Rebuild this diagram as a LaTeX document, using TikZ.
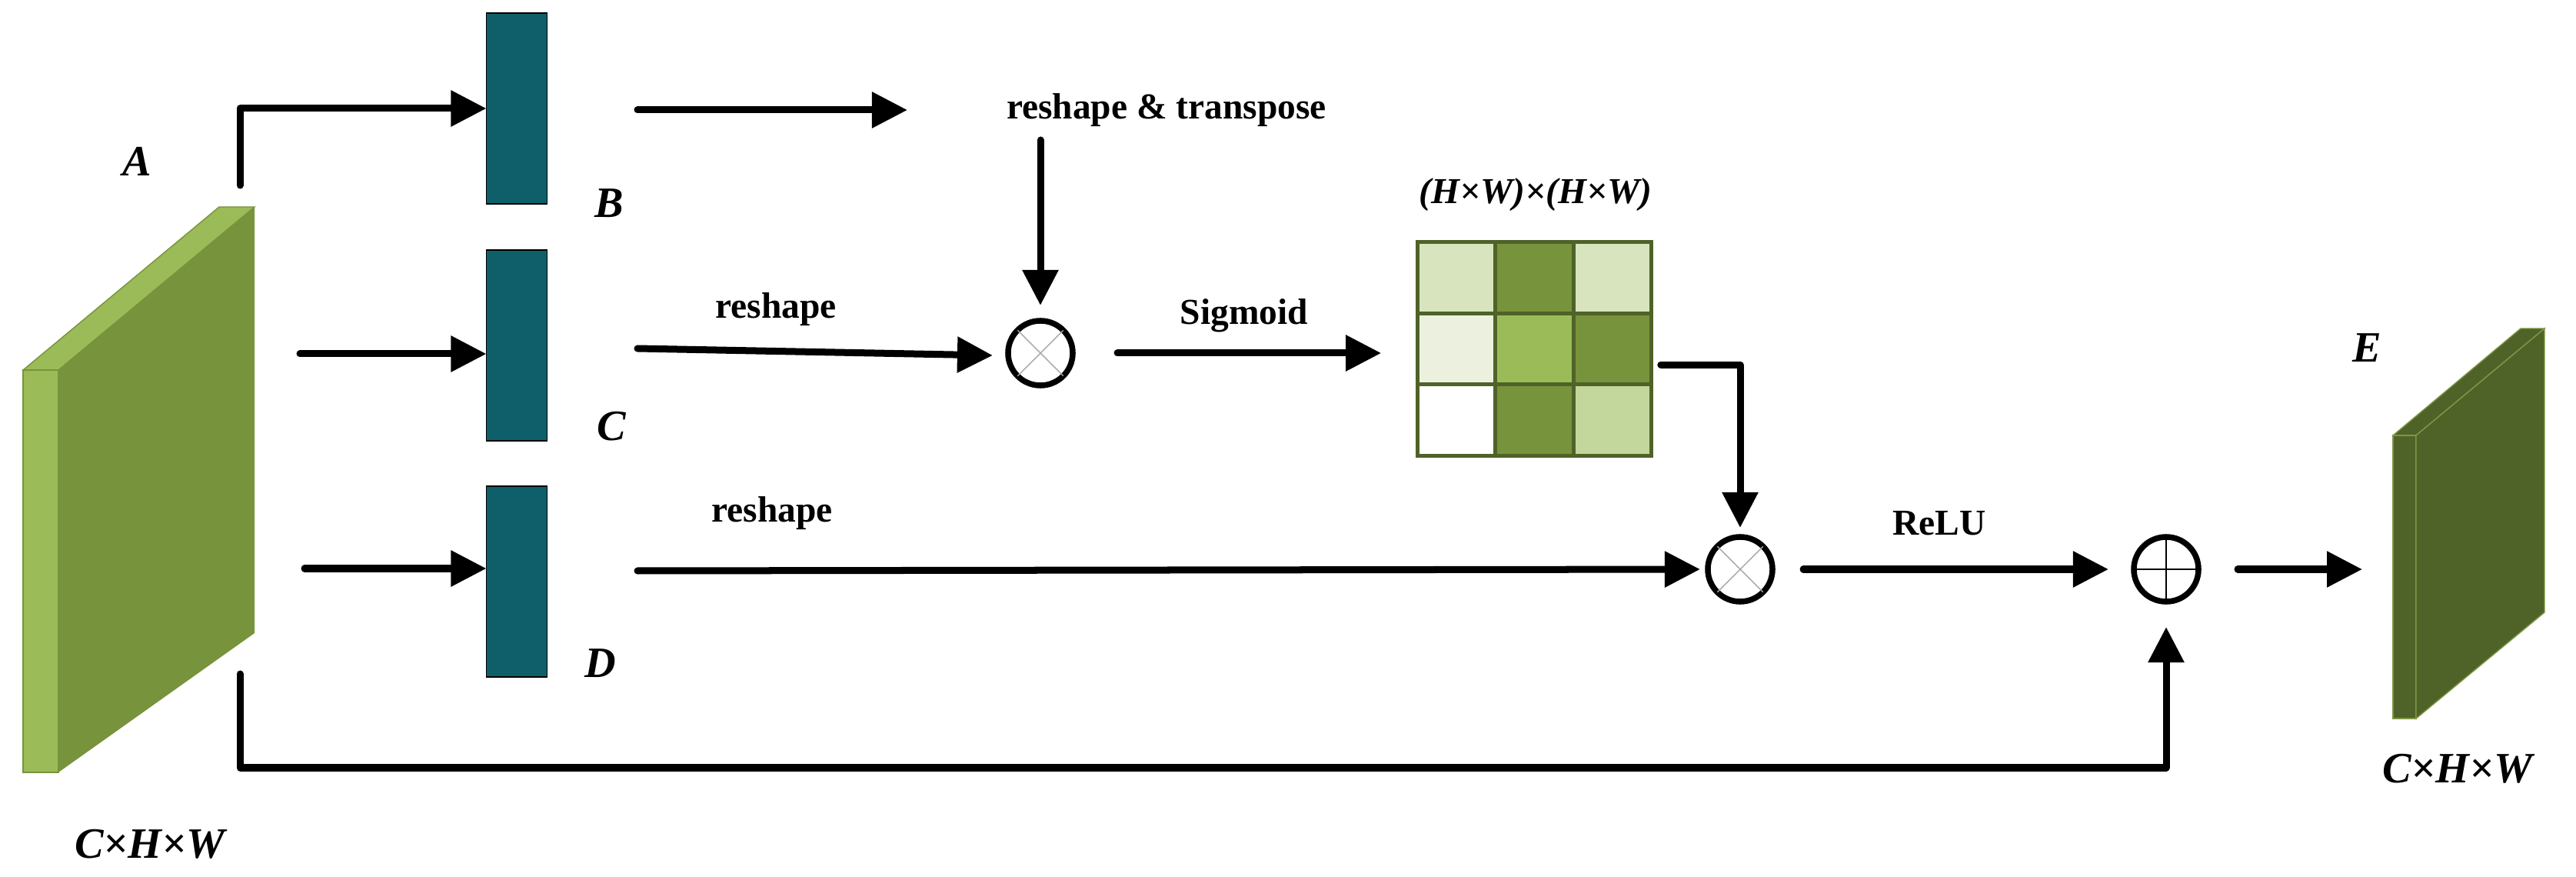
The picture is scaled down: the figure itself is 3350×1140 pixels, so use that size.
\documentclass[tikz,border=0pt]{standalone}
\usepackage{fontspec}
\setmainfont{Liberation Serif}
\usetikzlibrary{arrows.meta}
\definecolor{teal1}{HTML}{0F5F6A}
\definecolor{gA}{HTML}{9BBB59}
\definecolor{gB}{HTML}{77933C}
\definecolor{gD}{HTML}{4F6228}
\definecolor{gL1}{HTML}{D7E4BD}
\definecolor{gL2}{HTML}{EBF1DE}
\definecolor{gL3}{HTML}{C3D69B}
\begin{document}
\begin{tikzpicture}[x=0.01cm,y=-0.01cm,
  arr/.style={line width=0.09cm,line cap=round,line join=round,-{Triangle[length=0.46cm,width=0.45cm]}},
  bar/.style={draw=black,line width=0.4pt,fill=teal1,minimum width=0.79cm,minimum height=2.48cm,inner sep=0,outer sep=0},
  op/.style={circle,draw=black,line width=0.075cm,minimum size=0.84cm,inner sep=0,outer sep=0},
  lab/.style={font=\fontsize{16}{16}\selectfont\bfseries\itshape},
  txt/.style={font=\fontsize{13.5}{13.5}\selectfont\bfseries},
  cell/.style={draw=gD,line width=0.05cm}]
\useasboundingbox (0,0) rectangle (3350,1140);
% block A
\fill[gA,draw=gB,line width=0.4pt] (30,481)--(285,269)--(331,269)--(76,481)--cycle;
\fill[gA,draw=gB,line width=0.4pt] (30,481) rectangle (76,1004);
\fill[gB] (76,481)--(331,269)--(331,823)--(76,1004)--cycle;
\node[lab] (la) at (178,210) {A};
\node[lab] (lca) at (195,1097) {C×H×W};
% bars
\node[bar] (B) at (672,141) {};
\node[bar] (C) at (672,449) {};
\node[bar] (D) at (672,756) {};
\node[lab] (lb) at (792,264) {B};
\node[lab] (lc) at (795,554) {C};
\node[lab] (ld) at (781,862) {D};
% operators
\node[op] (m1) at (1353,459) {};
\draw[gray!70,line width=0.4pt] (m1.north west)--(m1.south east) (m1.north east)--(m1.south west);
\node[op] (m2) at (2263,740) {};
\draw[gray!70,line width=0.4pt] (m2.north west)--(m2.south east) (m2.north east)--(m2.south west);
\node[op] (p1) at (2817,740) {};
\draw[black,line width=0.4pt] (p1.north)--(p1.south) (p1.west)--(p1.east);
% grid
\fill[gL1] (1843,315) rectangle (1944,408);
\fill[gB] (1944,315) rectangle (2046,408);
\fill[gL1] (2046,315) rectangle (2147,408);
\fill[gL2] (1843,408) rectangle (1944,500);
\fill[gA] (1944,408) rectangle (2046,500);
\fill[gB] (2046,408) rectangle (2147,500);
\fill[white] (1843,500) rectangle (1944,593);
\fill[gB] (1944,500) rectangle (2046,593);
\fill[gL3] (2046,500) rectangle (2147,593);
\draw[cell] (1843,315) rectangle (2147,593);
\draw[cell] (1944,315)--(1944,593) (2046,315)--(2046,593) (1843,408)--(2147,408) (1843,500)--(2147,500);
\node[draw=none,minimum width=3.04cm,minimum height=2.78cm] (G) at (1995,454) {};
\node[txt,font=\fontsize{13.5}{13.5}\selectfont\bfseries\itshape] (lg) at (1997,253) {(H×W)×(H×W)};
% block E
\fill[gD,draw=gA!60!gD,line width=0.4pt] (3112,566)--(3278,427)--(3309,427)--(3142,566)--cycle;
\fill[gD,draw=gA!60!gD,line width=0.4pt] (3112,566) rectangle (3142,934);
\fill[gD,draw=gA!60!gD,line width=0.4pt] (3142,566)--(3309,427)--(3309,796)--(3142,934)--cycle;
\node[lab] (le) at (3078,452) {E};
\node[lab] (lce) at (3196,999) {C×H×W};
% texts
\node[txt] (t1) at (1517,143) {reshape \& transpose};
\node[txt] (t2) at (1009,402) {reshape};
\node[txt] (t3) at (1618,410) {Sigmoid};
\node[txt] (t4) at (1004,667) {reshape};
\node[txt] (t5) at (2522,680) {ReLU};
% coordinates
\coordinate (a1) at (312,241);
\coordinate (a2) at (390,460);
\coordinate (a3) at (396,739);
\coordinate (a4) at (312,876);
\coordinate (b1) at (829,143);
\coordinate (b2) at (1180,143);
\coordinate (c1) at (829,453);
\coordinate (d1) at (829,742);
\coordinate (e1) at (2910,740);
\coordinate (e2) at (3072,740);
\coordinate (r1) at (1353,182);
% connectors
\draw[arr] (a1) |- (B.west);
\draw[arr] (a2) -- (C.west |- a2);
\draw[arr] (a3) -- (D.west |- a3);
\draw[arr] (b1) -- (b2);
\draw[arr] (r1) -- ([yshift=0.2cm]m1.north);
\draw[arr] (c1) -- ([xshift=-0.2cm,yshift=-0.03cm]m1.west);
\draw[arr] ([xshift=0.58cm]m1.east) -- ([xshift=-0.46cm]G.west |- m1);
\draw[arr] ([xshift=0.12cm,yshift=-0.2cm]G.east) -| ([yshift=0.12cm]m2.north);
\draw[arr] (d1) -- ([xshift=-0.1cm]m2.west);
\draw[arr] ([xshift=0.4cm]m2.east) -- ([xshift=-0.33cm]p1.west);
\draw[arr] (a4) |- (1000,998) -| ([yshift=-0.33cm]p1.south);
\draw[arr] (e1) -- (e2);
\end{tikzpicture}
\end{document}
